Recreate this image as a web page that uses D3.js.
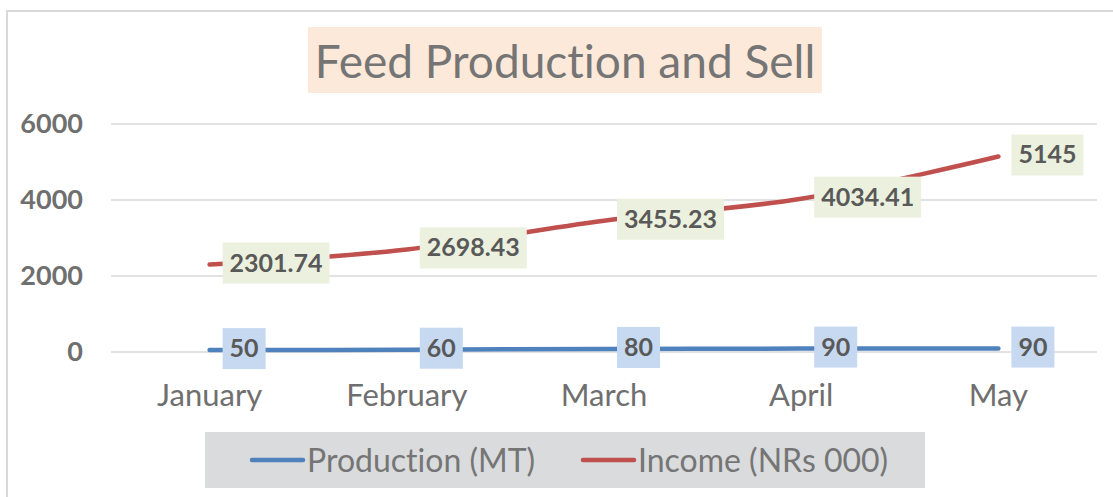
<!DOCTYPE html>
<html>
<head>
<meta charset="utf-8">
<script src="https://cdn.jsdelivr.net/npm/d3@7"></script>
<style>
  body { margin: 0; background: #ffffff; }
  svg { display: block; }
  text { font-family: "Lato", "Open Sans", sans-serif; font-variant-ligatures: none; }
</style>
</head>
<body>
<div class="chart"></div>
<script>
// data
const months = ["January", "February", "March", "April", "May"];
const production = [50, 60, 80, 90, 90];
const income = [2301.74, 2698.43, 3455.23, 4034.41, 5145];
const incomeLabels = ["2301.74", "2698.43", "3455.23", "4034.41", "5145"];
const yTicks = [0, 2000, 4000, 6000];
const chartTitle = "Feed Production and Sell";
const seriesNames = ["Production (MT)", "Income (NRs 000)"];

const width = 1113, height = 497;
const margin = { top: 124, right: 16, bottom: 145, left: 111 };

const svg = d3
  .select(".chart")
  .append("svg")
  .attr("width", width)
  .attr("height", height);

// outer frame (left + top borders visible)
svg.append("path")
  .attr("d", `M7,${height} L7,11 L${width},11`)
  .attr("fill", "none")
  .attr("stroke", "#d9d9d9")
  .attr("stroke-width", 2);

// scales
const x = d3.scaleBand()
  .domain(months)
  .range([margin.left, width - margin.right]);

const y = d3.scaleLinear()
  .domain([0, 6000])
  .range([height - margin.bottom, margin.top]);

// gridlines
svg.append("g")
  .selectAll("line")
  .data(yTicks)
  .join("line")
  .attr("x1", margin.left)
  .attr("x2", width - margin.right)
  .attr("y1", d => y(d))
  .attr("y2", d => y(d))
  .attr("stroke", "#d9d9d9")
  .attr("stroke-width", 1.5);

// y axis labels
const yAxis = svg.append("g")
  .attr("transform", `translate(${margin.left},0)`)
  .call(d3.axisLeft(y).tickValues(yTicks).tickFormat(d3.format("d")).tickSize(0).tickPadding(28));
yAxis.select(".domain").remove();
yAxis.selectAll("text")
  .attr("fill", "#6f6f6f")
  .style("font-size", "27px")
  .style("font-weight", "bold")
  .style("font-family", "Lato, 'Open Sans', sans-serif");

// x axis labels
const xAxis = svg.append("g")
  .attr("transform", `translate(0,${height - margin.bottom})`)
  .call(d3.axisBottom(x).tickSize(0).tickPadding(32));
xAxis.select(".domain").remove();
xAxis.selectAll("text")
  .attr("fill", "#6f6f6f")
  .style("font-size", "31px")
  .style("font-family", "Lato, 'Open Sans', sans-serif");

const cx = d => x(d) + x.bandwidth() / 2;

// lines (smoothed)
const line = d3.line()
  .x((d, i) => cx(months[i]))
  .y(d => y(d))
  .curve(d3.curveCardinal.tension(0));

svg.append("path")
  .datum(production)
  .attr("fill", "none")
  .attr("stroke", "#4f81bd")
  .attr("stroke-width", 4.5)
  .attr("stroke-linecap", "round")
  .attr("d", line);

svg.append("path")
  .datum(income)
  .attr("fill", "none")
  .attr("stroke", "#c0504d")
  .attr("stroke-width", 4.5)
  .attr("stroke-linecap", "round")
  .attr("d", line);

// data labels with boxes, placed right of point
function addLabels(values, labels, fill) {
  const g = svg.append("g");
  values.forEach((v, i) => {
    const px = cx(months[i]) + 13;
    const py = y(v) - 2;
    const lg = g.append("g");
    const t = lg.append("text")
      .attr("x", px + 7)
      .attr("y", py)
      .attr("dy", "0.36em")
      .attr("fill", "#595959")
      .style("font-size", "25px")
      .style("font-weight", "bold")
      .text(labels[i]);
    const w = t.node().getComputedTextLength();
    lg.insert("rect", "text")
      .attr("x", px)
      .attr("y", py - 20)
      .attr("width", w + 14)
      .attr("height", 41)
      .attr("fill", fill);
  });
}
addLabels(production, production.map(String), "#c6d9f1");
addLabels(income, incomeLabels, "#ebf1de");

// title
const titleG = svg.append("g");
titleG.append("rect")
  .attr("x", 308)
  .attr("y", 27)
  .attr("width", 514)
  .attr("height", 66)
  .attr("fill", "#fde9d9");
titleG.append("text")
  .attr("x", 565)
  .attr("y", 61)
  .attr("dy", "0.36em")
  .attr("text-anchor", "middle")
  .attr("fill", "#757575")
  .style("font-size", "46px")
  .text(chartTitle);

// legend
const legend = svg.append("g");
legend.append("rect")
  .attr("x", 205)
  .attr("y", 432)
  .attr("width", 720)
  .attr("height", 56)
  .attr("fill", "#dadbdd");
const legendItems = [
  { name: seriesNames[0], color: "#4f81bd", x: 252 },
  { name: seriesNames[1], color: "#c0504d", x: 583 },
];
legendItems.forEach(d => {
  legend.append("line")
    .attr("x1", d.x)
    .attr("x2", d.x + 51)
    .attr("y1", 460)
    .attr("y2", 460)
    .attr("stroke", d.color)
    .attr("stroke-width", 4.5)
    .attr("stroke-linecap", "round");
  legend.append("text")
    .attr("x", d.x + 55)
    .attr("y", 460)
    .attr("dy", "0.36em")
    .attr("fill", "#757575")
    .style("font-size", "32px")
    .text(d.name);
});
</script>
</body>
</html>
